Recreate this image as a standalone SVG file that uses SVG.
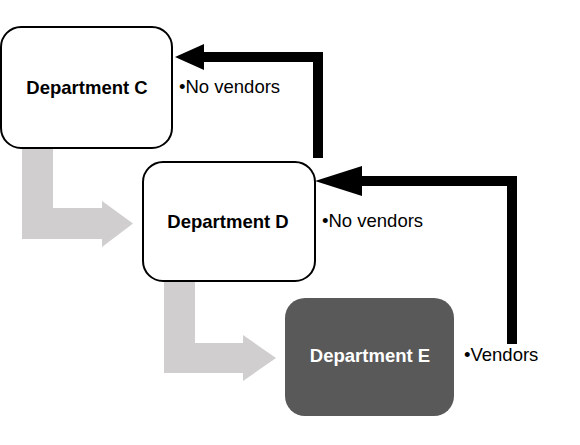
<svg xmlns="http://www.w3.org/2000/svg" width="580" height="445" viewBox="0 0 580 445">
<style>
.box{fill:#fff;stroke:#000;stroke-width:2}
.dark{fill:#595959;stroke:none}
.title{font-family:"Liberation Sans",Arial,sans-serif;font-size:18.5px;font-weight:bold;text-anchor:middle}
.note{font-family:"Liberation Sans",Arial,sans-serif;font-size:18.5px;fill:#000}
.flow{fill:#d0cece;stroke:none}
.back{fill:none;stroke:#000;stroke-width:10}
.head{fill:#000}
</style>
<rect width="580" height="445" fill="#fff"/>
<g id="connectors">
<polygon class="flow" points="22,148 53,148 53,208 102,208 102,201 133,223.5 102,247 102,239 22,239"/>
<polygon class="flow" points="164,281 195,281 195,343 243,343 243,335 276,358 243,381 243,373 164,373"/>
<path class="back" d="M512,344 V181 H360"/>
<polygon class="head" points="315,181 362,166 362,196"/>
<path class="back" d="M318,158 V57 H202"/>
<polygon class="head" points="175,57 204,44 204,70"/>
</g>
<g id="deptC">
<rect class="box" x="1" y="27" width="171" height="121" rx="20"/>
<text class="title" x="87" y="94">Department C</text>
</g>
<g id="deptD">
<rect class="box" x="143" y="162" width="172" height="119" rx="20"/>
<text class="title" x="228" y="228">Department D</text>
</g>
<g id="deptE">
<rect class="dark" x="285" y="298" width="169" height="118" rx="20"/>
<text class="title" x="370" y="362" fill="#fff">Department E</text>
</g>
<g id="notes">
<text class="note" x="179" y="93">•No vendors</text>
<text class="note" x="322" y="227">•No vendors</text>
<text class="note" x="464" y="361">•Vendors</text>
</g>
</svg>
